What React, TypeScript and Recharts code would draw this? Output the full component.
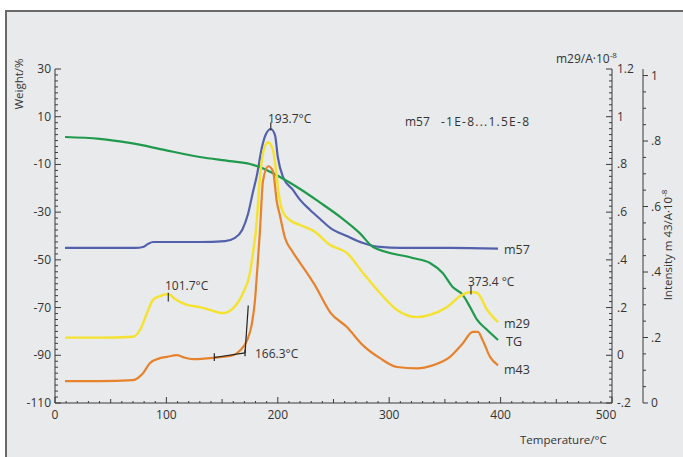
import React from "react";
import {
  ComposedChart,
  Line,
  XAxis,
  YAxis,
  ReferenceLine,
} from "recharts";

// TG curve (weight %)
const tgT = [9, 40, 67, 99, 130, 157, 175, 188, 202, 220, 238, 256, 274, 285.5, 321, 336.6, 348, 357, 366, 372.5, 379, 388, 397.7];
const tgW = [1.5, 0.7, -1, -4, -6.9, -8.6, -9.8, -11.9, -15.3, -20.3, -26, -32, -39, -44.6, -49.2, -51.3, -55.5, -61.4, -64.7, -69.7, -75.2, -79.4, -83.6];

// m57 (own range -1E-8 ... 1.5E-8)
const m57T = [9, 40, 72, 79, 83.5, 88, 103, 130, 152.6, 161.6, 168, 173, 177.7, 181.3, 185.8, 189.4, 193.7, 197.5, 200, 204.7, 213.6, 220, 229, 238, 247, 262, 276.5, 291.7, 310, 355, 397.7];
const m57V = [0.161, 0.161, 0.161, 0.168, 0.191, 0.205, 0.205, 0.205, 0.212, 0.236, 0.295, 0.407, 0.579, 0.707, 0.916, 1.014, 1.051, 1.005, 0.841, 0.691, 0.595, 0.52, 0.445, 0.377, 0.311, 0.25, 0.198, 0.168, 0.161, 0.161, 0.156];

// m29
const m29T = [9, 40, 70, 76.3, 82.6, 88, 94.3, 101.7, 107.7, 118.5, 130, 139, 150.8, 160, 168.8, 175, 177.7, 180.4, 184, 186.7, 191.2, 195.7, 198.4, 201, 204.7, 211, 220, 233.4, 247, 262, 276.5, 291.7, 307, 325, 336.6, 352, 363.6, 373.4, 379, 388, 397.7];
const m29V = [0.074, 0.074, 0.078, 0.106, 0.177, 0.232, 0.248, 0.257, 0.236, 0.211, 0.202, 0.19, 0.177, 0.198, 0.261, 0.345, 0.429, 0.525, 0.747, 0.847, 0.893, 0.86, 0.776, 0.671, 0.6, 0.566, 0.546, 0.517, 0.462, 0.429, 0.345, 0.261, 0.19, 0.16, 0.169, 0.202, 0.248, 0.265, 0.261, 0.19, 0.139];

// m43
const m43T = [9, 40, 70, 79, 85.3, 94.3, 100.5, 109.5, 115, 124, 142, 160, 166.3, 172.4, 176.8, 179.5, 181.3, 184, 186.7, 191.5, 195.7, 199, 202, 206.5, 212.7, 220, 233.4, 247, 262, 276.5, 291.7, 307, 325, 339, 354.6, 366, 375, 379.7, 384, 390.5, 397.7];
const m43V = [0.067, 0.067, 0.07, 0.091, 0.122, 0.137, 0.141, 0.146, 0.14, 0.134, 0.138, 0.146, 0.161, 0.191, 0.243, 0.313, 0.395, 0.526, 0.678, 0.723, 0.708, 0.617, 0.571, 0.504, 0.465, 0.428, 0.359, 0.277, 0.232, 0.176, 0.137, 0.11, 0.106, 0.115, 0.141, 0.182, 0.217, 0.217, 0.191, 0.141, 0.115];

// axes
const tempLabels = [0, 100, 200, 300, 400, 500];
const weightLabels = [30, 10, -10, -30, -50, -70, -90, -110];
const m29Labels = [1.2, 1, 0.8, 0.6, 0.4, 0.2, 0, -0.2];
const m43Labels = [1, 0.8, 0.6, 0.4, 0.2, 0];

const tempTicks = Array.from({ length: 51 }, (_, i) => i * 10);
const weightTicks = Array.from({ length: 57 }, (_, i) => -110 + i * 2.5);
const m29Ticks = Array.from({ length: 57 }, (_, i) => Math.round((-0.2 + i * 0.025) * 1000) / 1000);
const m43Ticks = Array.from({ length: 21 }, (_, i) => Math.round(i * 0.05 * 100) / 100);

const toRows = (xs: number[], ys: number[]) => xs.map((t, i) => ({ t, v: ys[i] }));

const AXIS = "#3a3a3a";
const TXT = "#333";
const FONT = "'Open Sans', 'Noto Sans', sans-serif";

const fmtFrac = (v: number) => {
  if (v === 0) return "0";
  return String(v).replace(/^(-?)0\./, "$1.");
};

const near = (a: number, list: number[]) => list.some((b) => Math.abs(a - b) < 1e-6);

const LeftTick = (props: any) => {
  const { x, y, payload } = props;
  const major = near(payload.value, weightLabels);
  return (
    <g>
      <line x1={x} x2={x + (major ? 6 : 3)} y1={y} y2={y} stroke={AXIS} />
      {major && (
        <text x={x - 4} y={y} dy={4} textAnchor="end" fontSize={12} fill={TXT} fontFamily={FONT}>
          {payload.value}
        </text>
      )}
    </g>
  );
};

const M29Tick = (props: any) => {
  const { x, y, payload } = props;
  const major = near(payload.value, m29Labels);
  return (
    <g>
      <line x1={x} x2={x - (major ? 6 : 3)} y1={y} y2={y} stroke={AXIS} />
      {major && (
        <text x={x + 5} y={y} dy={4} textAnchor="start" fontSize={12} fill={TXT} fontFamily={FONT}>
          {fmtFrac(payload.value)}
        </text>
      )}
    </g>
  );
};

const M43Tick = (props: any) => {
  const { x, y, payload } = props;
  const major = near(payload.value, m43Labels);
  return (
    <g>
      <line x1={x} x2={x + (major ? 5 : 3)} y1={y} y2={y} stroke={AXIS} />
      {major && (
        <text x={x + 8} y={y} dy={4} textAnchor="start" fontSize={12} fill={TXT} fontFamily={FONT}>
          {fmtFrac(payload.value)}
        </text>
      )}
    </g>
  );
};

const BottomTick = (props: any) => {
  const { x, y, payload } = props;
  const v = payload.value;
  const major = near(v, tempLabels);
  const mid = v % 50 === 0;
  return (
    <g>
      <line x1={x} x2={x} y1={y} y2={y - (major ? 6 : mid ? 4 : 2)} stroke={AXIS} />
      {major && (
        <text x={v === 500 ? x - 6 : x} y={y + 16} textAnchor="middle" fontSize={12} fill={TXT} fontFamily={FONT}>
          {v}
        </text>
      )}
    </g>
  );
};

export default function App() {
  return (
    <div style={{ position: "absolute", left: 0, top: 0, width: 683, height: 457, background: "#fff", overflow: "hidden" }}>
      <div
        style={{
          position: "absolute",
          left: 5,
          top: 10,
          width: 690,
          height: 460,
          background: "#e9eaec",
          borderTop: "2px solid #6a6a6a",
          borderLeft: "2px solid #6a6a6a",
        }}
      />
      <div style={{ position: "absolute", left: 0, top: 0 }}>
        <ComposedChart width={683} height={457} margin={{ top: 69, right: 39, bottom: 24, left: 54 }}>
          <XAxis
            dataKey="t"
            type="number"
            domain={[0, 500]}
            ticks={tempTicks}
            interval={0}
            tickSize={0}
            tickMargin={0}
            height={30}
            allowDuplicatedCategory={false}
            axisLine={{ stroke: AXIS }}
            tick={<BottomTick />}
          />
          <YAxis yAxisId="w" type="number" domain={[-110, 30]} ticks={weightTicks} interval={0} width={1} tickSize={0} tickMargin={0} axisLine={{ stroke: AXIS }} tick={<LeftTick />} />
          <YAxis yAxisId="m29" orientation="right" type="number" domain={[-0.2, 1.2]} ticks={m29Ticks} interval={0} width={31} tickSize={0} tickMargin={0} axisLine={{ stroke: AXIS }} tick={<M29Tick />} />
          <YAxis yAxisId="m43" orientation="right" type="number" domain={[0, 1.02]} ticks={m43Ticks} interval={0} width={1} tickSize={0} tickMargin={0} axisLine={{ stroke: AXIS }} tick={<M43Tick />} />
          <YAxis yAxisId="m57" hide orientation="right" width={0} type="number" domain={[-1, 1.5]} />

          <Line yAxisId="m57" data={toRows(m57T, m57V)} dataKey="v" type="monotone" stroke="#5361ad" strokeWidth={2.2} dot={false} isAnimationActive={false} />
          <Line yAxisId="w" data={toRows(tgT, tgW)} dataKey="v" type="monotone" stroke="#1f9a4c" strokeWidth={2.2} dot={false} isAnimationActive={false} />
          <Line yAxisId="m29" data={toRows(m29T, m29V)} dataKey="v" type="monotone" stroke="#f4e22f" strokeWidth={2.4} dot={false} isAnimationActive={false} />
          <Line yAxisId="m43" data={toRows(m43T, m43V)} dataKey="v" type="monotone" stroke="#e7822c" strokeWidth={2.2} dot={false} isAnimationActive={false} />

          {/* onset tangents on m43 */}
          <ReferenceLine yAxisId="m43" segment={[{ x: 143, y: 0.139 }, { x: 170.6, y: 0.153 }]} stroke="#222" strokeWidth={1.2} />
          <ReferenceLine yAxisId="m43" segment={[{ x: 170.6, y: 0.153 }, { x: 173.5, y: 0.298 }]} stroke="#222" strokeWidth={1.2} />
          <ReferenceLine yAxisId="m43" segment={[{ x: 143, y: 0.128 }, { x: 143, y: 0.152 }]} stroke="#222" strokeWidth={1.2} />
          <ReferenceLine yAxisId="m43" segment={[{ x: 170.6, y: 0.143 }, { x: 170.6, y: 0.163 }]} stroke="#222" strokeWidth={1.2} />
          {/* peak markers */}
          <ReferenceLine yAxisId="m29" segment={[{ x: 101.7, y: 0.225 }, { x: 101.7, y: 0.262 }]} stroke="#333" strokeWidth={1.2} />
          <ReferenceLine yAxisId="m29" segment={[{ x: 373.4, y: 0.255 }, { x: 373.4, y: 0.29 }]} stroke="#333" strokeWidth={1.2} />
          <ReferenceLine yAxisId="m57" segment={[{ x: 193.7, y: 1.04 }, { x: 193.7, y: 1.1 }]} stroke="#333" strokeWidth={1.2} />
        </ComposedChart>
      </div>
      <svg width={683} height={457} style={{ position: "absolute", left: 0, top: 0, pointerEvents: "none" }} fontFamily={FONT} fill={TXT}>
        <text x={23} y={84} fontSize={11.5} textAnchor="middle" transform="rotate(-90 23 84)">Weight/%</text>
        <text x={556} y={63} fontSize={12}>
          m29/A·10<tspan dy={-5} fontSize={8}>-8</tspan>
        </text>
        <text x={672} y={245} fontSize={11.5} textAnchor="middle" transform="rotate(-90 672 245)">
          Intensity m 43/A·10<tspan dy={-5} fontSize={8}>-8</tspan>
        </text>
        <text x={520} y={444} fontSize={11.5}>Temperature/°C</text>
        <text x={268} y={123} fontSize={12}>193.7°C</text>
        <text x={405} y={126} fontSize={12}>m57</text>
        <text x={441} y={126} fontSize={12} textLength={88} lengthAdjust="spacing">-1E-8...1.5E-8</text>
        <text x={165} y={290} fontSize={12}>101.7°C</text>
        <text x={255} y={358} fontSize={12}>166.3°C</text>
        <text x={468} y={286} fontSize={12}>373.4  °C</text>
        <text x={504} y={254} fontSize={12.5}>m57</text>
        <text x={504} y={328} fontSize={12.5}>m29</text>
        <text x={506} y={346} fontSize={12.5}>TG</text>
        <text x={504} y={374} fontSize={12.5}>m43</text>
      </svg>
    </div>
  );
}
